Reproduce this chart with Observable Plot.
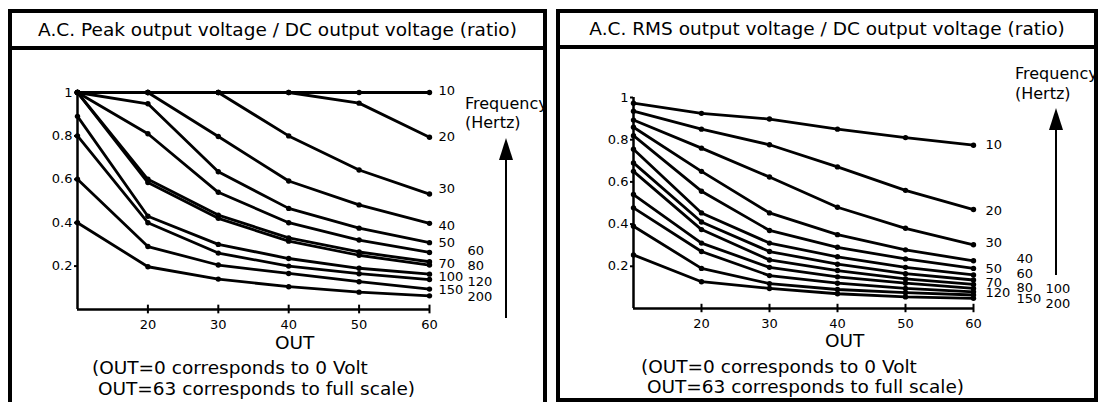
<!DOCTYPE html>
<html>
<head>
<meta charset="utf-8">
<script src="https://cdn.jsdelivr.net/npm/d3@7"></script>
<script src="https://cdn.jsdelivr.net/npm/@observablehq/plot@0.6"></script>
<style>
  html, body { margin: 0; padding: 0; background: #fff; }
  #page { position: relative; width: 1098px; height: 402px; overflow: hidden; background: #fff;
          font-family: "DejaVu Sans", sans-serif; color: #000; }
  .t { position: absolute; white-space: pre; line-height: 1; }
  .box { position: absolute; box-sizing: border-box; border: 4px solid #000; }
  .bar { position: absolute; background: #000; }
</style>
</head>
<body>
<div id="page"></div>
<script>
// ---------- data ----------
const outValues = [10, 20, 30, 40, 50, 60];
const frequencies = [10, 20, 30, 40, 50, 60, 70, 80, 100, 120, 150, 200];
const xTicks = [20, 30, 40, 50, 60];
const yTicks = [0.2, 0.4, 0.6, 0.8, 1];

// A.C. Peak / DC ratio, one row per frequency, values at OUT = 10..60
const peakRows = [
  [1.00, 1.00, 1.00, 1.00, 1.00, 1.00],
  [1.00, 1.00, 1.00, 1.00, 0.951, 0.794],
  [1.00, 1.00, 1.00, 0.80, 0.643, 0.532],
  [1.00, 1.00, 0.797, 0.592, 0.482, 0.397],
  [1.00, 0.948, 0.635, 0.466, 0.375, 0.308],
  [1.00, 0.81, 0.54, 0.40, 0.32, 0.263],
  [1.00, 0.60, 0.435, 0.33, 0.265, 0.22],
  [1.00, 0.585, 0.42, 0.315, 0.25, 0.205],
  [0.89, 0.43, 0.30, 0.235, 0.19, 0.163],
  [0.80, 0.40, 0.26, 0.20, 0.165, 0.138],
  [0.60, 0.29, 0.205, 0.166, 0.128, 0.094],
  [0.40, 0.197, 0.14, 0.105, 0.08, 0.063]
];

// A.C. RMS / DC ratio
const rmsRows = [
  [0.973, 0.925, 0.898, 0.85, 0.81, 0.774],
  [0.935, 0.85, 0.776, 0.671, 0.56, 0.469],
  [0.893, 0.76, 0.623, 0.48, 0.38, 0.302],
  [0.859, 0.65, 0.453, 0.35, 0.278, 0.226],
  [0.819, 0.556, 0.37, 0.29, 0.235, 0.19],
  [0.755, 0.453, 0.31, 0.245, 0.195, 0.159],
  [0.69, 0.41, 0.27, 0.21, 0.165, 0.135],
  [0.65, 0.374, 0.23, 0.18, 0.14, 0.114],
  [0.54, 0.31, 0.195, 0.15, 0.12, 0.095],
  [0.477, 0.27, 0.156, 0.12, 0.095, 0.079],
  [0.39, 0.19, 0.118, 0.09, 0.075, 0.064],
  [0.254, 0.127, 0.095, 0.07, 0.055, 0.048]
];

const peakTitle = "A.C. Peak output voltage / DC output voltage (ratio)";
const rmsTitle = "A.C. RMS output voltage / DC output voltage (ratio)";
const xLabel = "OUT";
const footer1 = "(OUT=0 corresponds to 0 Volt";
const footer2 = " OUT=63 corresponds to full scale)";
const freqLabel1 = "Frequency";
const freqLabel2 = "(Hertz)";

// ---------- layout helpers ----------
const page = document.getElementById("page");

function tidy(rows) {
  return rows.flatMap((vals, i) => vals.map((v, j) => ({freq: frequencies[i], out: outValues[j], ratio: v, i})));
}

function addText(txt, left, baseline, size, width) {
  const d = document.createElement("div");
  d.className = "t";
  d.textContent = txt;
  d.style.left = left + "px";
  d.style.top = (baseline - 0.846 * size) + "px";
  d.style.fontSize = size + "px";
  if (width) { d.style.width = width + "px"; d.style.overflow = "hidden"; }
  page.appendChild(d);
  return d;
}

function addCentered(txt, left, width, baseline, size) {
  const d = addText(txt, left, baseline, size);
  d.style.width = width + "px";
  d.style.textAlign = "center";
}

function addDiv(cls, left, top, width, height) {
  const d = document.createElement("div");
  d.className = cls;
  Object.assign(d.style, {left: left + "px", top: top + "px", width: width + "px", height: height + "px"});
  page.appendChild(d);
  return d;
}

function addArrow(x, top, headH, bottom) {
  addDiv("bar", x - 0.75, top + headH - 1, 1.5, bottom - top - headH + 1);
  const h = document.createElement("div");
  Object.assign(h.style, {position: "absolute", left: (x - 7.5) + "px", top: top + "px", width: 0, height: 0,
    borderLeft: "7.5px solid transparent", borderRight: "7.5px solid transparent", borderBottom: headH + "px solid #000"});
  page.appendChild(h);
}

// labelColumn(i): which column a curve label sits in; nudge: vertical pixel shift of each label
function chart(rows, left, m, labelColumn, colDx, nudge) {
  const data = tidy(rows);
  const ends = data.filter(d => d.out === outValues[outValues.length - 1]);
  const pxPerUnit = 402 - m[2] - m[3];
  const labelMarks = colDx.map((dx, c) =>
    Plot.text(ends.filter(d => labelColumn(d.i) === c), {
      x: "out", y: d => d.ratio - nudge[d.i] / pxPerUnit, text: d => String(d.freq),
      textAnchor: "start", lineAnchor: "middle", dx, fill: "black", fontSize: 13
    }));
  const svg = Plot.plot({
    width: 549, height: 402,
    marginLeft: m[0], marginRight: m[1], marginTop: m[2], marginBottom: m[3],
    style: {fontFamily: "DejaVu Sans", fontSize: "13px", color: "black", background: "transparent", overflow: "visible"},
    x: {domain: [10, 60]},
    y: {domain: [0, 1]},
    marks: [
      Plot.ruleX([10], {stroke: "black", strokeWidth: 2.5}),
      Plot.ruleY([0], {stroke: "black", strokeWidth: 2.5}),
      Plot.ruleX(xTicks, {x: d => d, y1: -0.02, y2: 0.02, stroke: "black", strokeWidth: 2}),
      Plot.axisX({ticks: xTicks, tickSize: 0, tickPadding: 10, label: null, fontSize: 13}),
      Plot.axisY({ticks: yTicks, tickSize: 3, tickPadding: 2, strokeWidth: 2, tickFormat: d => String(d), label: null, fontSize: 13}),
      Plot.line(data, {x: "out", y: "ratio", z: "freq", stroke: "black", strokeWidth: 2.8}),
      Plot.dot(data, {x: "out", y: "ratio", r: 2.7, fill: "black"}),
      ...labelMarks
    ]
  });
  svg.style.position = "absolute";
  svg.style.left = left + "px";
  svg.style.top = "0px";
  page.appendChild(svg);
}

// ---------- left panel: peak ----------
const peakNudge = [-2, 0, -5.5, 2, 0, -2, 2, 0.5, 2.5, 2, 0.5, 1];
chart(peakRows, 0, [77, 120, 92, 93],
  i => (i >= 5 && (i - 5) % 2 === 0) ? 1 : 0, [9, 38], peakNudge);
addCentered(peakTitle, 8, 539, 36.3, 18.5);
addText(xLabel, 275, 350, 18.5);
addText(footer1, 92, 375, 18.5);
addText(footer2, 92, 396, 18.5);
addText(freqLabel1, 465, 110, 16, 543 - 465);
addText(freqLabel2, 465, 129, 16);
addArrow(506, 138, 22, 318);
addDiv("box", 8, 9, 539, 430);
addDiv("bar", 8, 46, 539, 4);

// ---------- right panel: RMS ----------
const rmsCols = [0, 0, 0, 1, 0, 1, 0, 1, 2, 0, 1, 2];
const rmsNudge = [0, 1, -2, -2, 0, -1.5, 2.5, 3, 0, 1, 3.5, 5];
chart(rmsRows, 549, [84, 125, 97, 94], i => rmsCols[i], [12, 43, 72], rmsNudge);
addCentered(rmsTitle, 556, 542, 35.8, 18.5);
addText(xLabel, 825, 348, 18.5);
addText(footer1, 641, 374, 18.5);
addText(footer2, 641, 394, 18.5);
addText(freqLabel1, 1015, 80, 16, 1094 - 1015);
addText(freqLabel2, 1015, 100, 16);
addArrow(1056, 108, 22, 275);
addDiv("box", 556, 9, 542, 393);
addDiv("bar", 556, 45, 542, 4);
</script>
</body>
</html>
